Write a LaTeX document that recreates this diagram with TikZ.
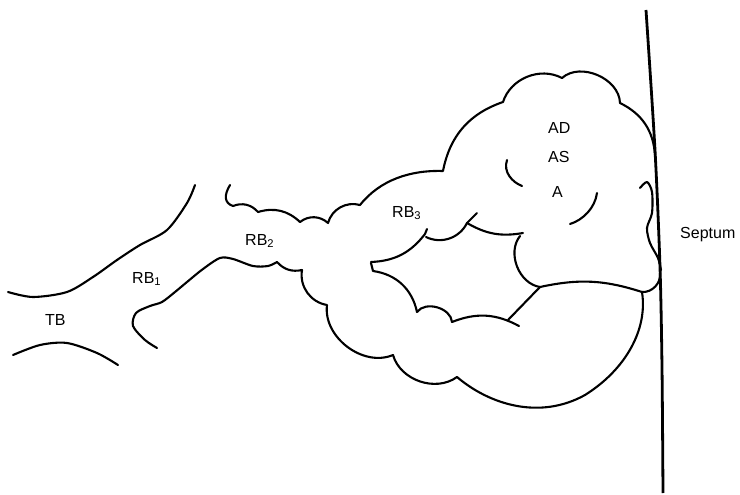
\documentclass[tikz,border=0pt]{standalone}
\usepackage{fontspec}
\setmainfont{Liberation Sans}

\begin{document}
\begin{tikzpicture}[x=1pt, y=-1pt,
    wall/.style={line width=2.1pt, line cap=round, line join=round},
    lbl/.style={anchor=base west, inner sep=0pt, font=\fontsize{16}{18}\selectfont}]
        \useasboundingbox (0,0) rectangle (740,495);

        \draw[line width=2.8pt] plot[smooth] coordinates {(646,10) (655,150) (660,267) (662,367) (663,493)};

        \draw[wall] plot[smooth] coordinates {(8,292) (33,297) (67,292) (93,277) (117,260) (140,245) (167,230) (187,203) (195,185)};
        \draw[wall] plot[smooth] coordinates {(13,355) (40,345) (67,343) (97,353) (118,365)};

        \draw[wall] (230,185) .. controls (224,195) and (224,203) .. (233,206)
            to[bend left=35] (258,212) to[bend left=30] (300,222)
            to[bend left=40] (328,223) to[bend left=45] (360,205)
            .. controls (380,180) and (410,170) .. (443,171) to[bend left=30] (503,102)
            to[bend left=50] (562,78) to[bend left=65] (620,103)
            to[bend left=30] (655,155);

        \draw[wall] plot[smooth] coordinates {(157,348) (145,340) (133,326) (136,313) (150,306) (162,302) (175,292) (187,282) (203,269) (220,258) (233,259) (253,266) (268,266) (277,262)}
            to[bend right=30] (302,270) to[bend right=45] (327,305)
            to[bend right=60] (393,355) to[bend right=55] (457,377)
            .. controls (490,405) and (540,420) .. (585,395)
            .. controls (625,370) and (648,330) .. (642,292)
            to[bend right=50] (660,273);
        \draw[wall] plot[smooth] coordinates {(640,188) (647,182) (652,192) (652,213) (647,228) (650,243) (658,258) (661,270)};

        \draw[wall] (371,262) to[bend right=25] (425,234) -- (427,229);
        \draw[wall] (426,237) to[bend right=45] (467,223) -- (477,213);
        \draw[wall] (467,223) to[bend right=20] (523,233);
        \draw[wall] (520,236) to[bend right=60] (540,287) to[bend left=15] (642,292);
        \draw[wall] (540,287) -- (508,320);
        \draw[wall] (371,263) -- (373,271) to[bend left=35] (417,312) to[bend left=70] (452,322) to[bend left=25] (519,326);
        \draw[wall] (507,160) .. controls (503,172) and (512,182) .. (522,186);
        \draw[wall] (597,193) .. controls (595,208) and (583,220) .. (570,224);

        \node[lbl] (tb) at (45,325) {TB};
        \node[lbl] (rbone) at (132,283) {RB\textsubscript{1}};
        \node[lbl] (rbtwo) at (245,245) {RB\textsubscript{2}};
        \node[lbl] (rbthree) at (392,217) {RB\textsubscript{3}};
        \node[lbl] (ad) at (548,133) {AD};
        \node[lbl] (as) at (548,162) {AS};
        \node[lbl] (a) at (552,197) {A};
        \node[lbl] (septum) at (680,238) {Septum};
      \end{tikzpicture}
\end{document}
